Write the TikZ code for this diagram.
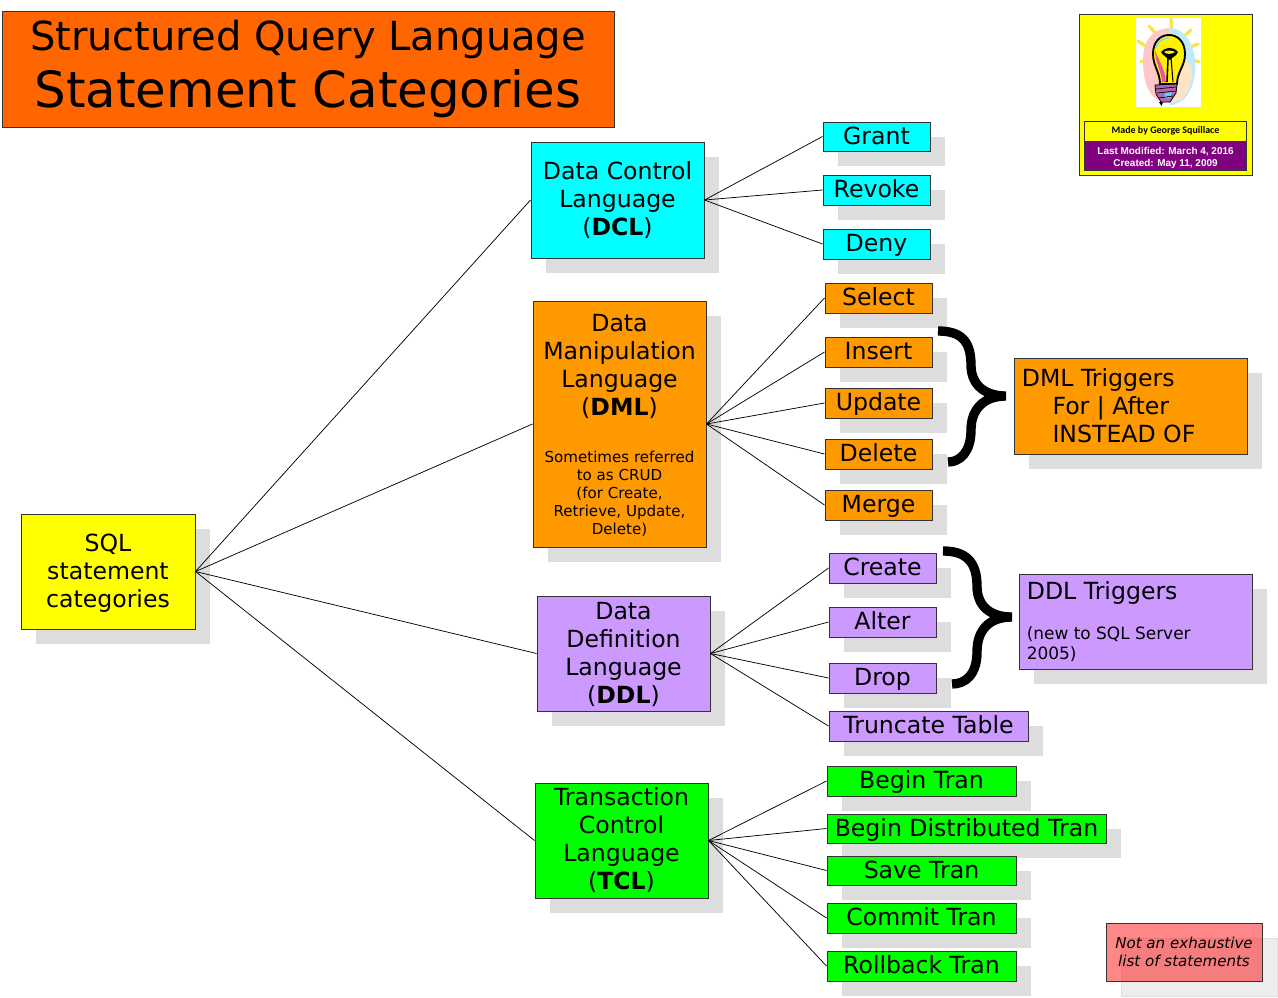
\documentclass[tikz,border=0pt]{standalone}
\usepackage{fontspec}
\setmainfont{DejaVu Sans}
\newfontfamily\carl{Carlito}
\newfontfamily\lib{Liberation Sans}
\definecolor{shad}{HTML}{DDDDDD}
\definecolor{orng}{HTML}{FF9900}
\definecolor{titleorange}{HTML}{FF6600}
\definecolor{purp}{HTML}{CC99FF}
\definecolor{grn}{HTML}{00FF00}
\definecolor{cyn}{HTML}{00FFFF}
\definecolor{yel}{HTML}{FFFF00}
\definecolor{dpurple}{HTML}{800080}
\definecolor{edge}{HTML}{333333}
\definecolor{raycol}{HTML}{F5E74A}
\tikzset{
  x=0.75pt,y=-0.75pt,
  boxnode/.style={draw=edge,line width=0.75pt,inner sep=0pt,align=center,text=black},
  shadowfill/.style={fill=shad,draw=none},
  link/.style={draw=black,line width=0.55pt},
  bracestroke/.style={draw=black,line width=7pt,line join=bevel,line cap=butt},
  big/.style={font=\fontsize{17.7}{21}\selectfont}
}
% name, x0,y0,x1,y1, colour, text
\newcommand{\bx}[7]{%
  \fill[shadowfill] (#2+15,#3+15) rectangle (#4+15,#5+15);
  \node[boxnode,big,fill=#6,minimum width={(#4-#2)*0.75pt},minimum height={(#5-#3)*0.75pt}] (#1) at ({(#2+#4)/2},{(#3+#5)/2}) {#7};
}
% single line without depth, so that all labels sit alike
\newcommand{\nd}[1]{\raisebox{0.8pt}[\height][0pt]{#1}}
\newcommand{\sm}[1]{{\fontsize{11.3}{13.5}\selectfont #1}}
\begin{document}
\begin{tikzpicture}
\useasboundingbox (0,0) rectangle (1278,997);
\node[boxnode,fill=titleorange,minimum width=459pt,minimum height=87pt,font=\fontsize{30}{42.5}\selectfont] (title) at (308,69) {Structured Query Language\\{\fontsize{37.4}{42.5}\selectfont Statement Categories}};
\bx{sql}{21}{514}{195}{629}{yel}{\rule{0pt}{16pt}SQL\\statement\\categories}
\bx{dcl}{531}{142}{704}{258}{cyn}{Data Control\\Language\\(\textbf{DCL})}
\bx{grant}{823}{122}{930}{151}{cyn}{\nd{Grant}}
\bx{revoke}{823}{175}{930}{205}{cyn}{\nd{Revoke}}
\bx{deny}{823}{229}{930}{259}{cyn}{\nd{Deny}}
\bx{dml}{533}{301}{706}{547}{orng}{\rule{0pt}{14.5pt}Data\\Manipulation\\Language\\(\textbf{DML})\\[14pt]\sm{Sometimes referred}\\[-7.5pt]\sm{to as CRUD}\\[-7.5pt]\sm{(for Create,}\\[-7.5pt]\sm{Retrieve, Update,}\\[-7.5pt]\sm{Delete)}}
\bx{select}{825}{283}{932}{313}{orng}{\nd{Select}}
\bx{insert}{825}{337}{932}{367}{orng}{\nd{Insert}}
\bx{update}{825}{388}{932}{418}{orng}{\nd{Update}}
\bx{delete}{825}{439}{932}{469}{orng}{\nd{Delete}}
\bx{merge}{825}{490}{932}{520}{orng}{\nd{Merge}}
\bx{dmltrig}{1014}{358}{1247}{454}{orng}{\raisebox{-0.8pt}{\parbox[c]{163pt}{\raggedright DML Triggers\\\hspace*{23pt}For | After\\\hspace*{23pt}INSTEAD OF}}}
\bx{ddl}{537}{596}{710}{711}{purp}{\rule{0pt}{14.5pt}Data\\Definition\\Language\\(\textbf{DDL})}
\bx{create}{829}{553}{936}{583}{purp}{\nd{Create}}
\bx{alter}{829}{607}{936}{637}{purp}{\nd{Alter}}
\bx{drop}{829}{663}{936}{693}{purp}{\nd{Drop}}
\bx{trunc}{829}{711}{1028}{741}{purp}{\nd{Truncate Table}}
\bx{ddltrig}{1019}{574}{1252}{669}{purp}{\raisebox{1pt}{\parbox[c]{163pt}{\raggedright DDL Triggers\\[15.5pt]{\fontsize{12.7}{15}\selectfont (new to SQL Server\\2005)\par}}}}
\bx{tcl}{535}{783}{708}{898}{grn}{Transaction\\Control\\Language\\(\textbf{TCL})}
\bx{begin}{827}{766}{1016}{796}{grn}{\nd{Begin Tran}}
\bx{dist}{827}{814}{1106}{843}{grn}{\nd{Begin Distributed Tran}}
\bx{save}{827}{856}{1016}{885}{grn}{\nd{Save Tran}}
\bx{commit}{827}{903}{1016}{933}{grn}{\nd{Commit Tran}}
\bx{rollback}{827}{951}{1016}{981}{grn}{\nd{Rollback Tran}}
% note
\fill[fill=black!7,draw=black!12,line width=0.5pt] (1121,938) rectangle (1277,996);
\node[draw=edge,line width=0.75pt,fill=red,fill opacity=0.47,text opacity=1,inner sep=0pt,align=center,minimum width=117pt,minimum height=43.5pt,font=\fontsize{11.3}{13.5}\selectfont\itshape] (note) at (1184,952) {Not an exhaustive\\list of statements};
% connectors
\foreach \a/\b in {sql/dcl,sql/dml,sql/ddl,sql/tcl}{\draw[link] (\a.east) -- (\b.west);}
\foreach \b in {grant,revoke,deny}{\draw[link] (dcl.east) -- (\b.west);}
\foreach \b in {select,insert,update,delete,merge}{\draw[link] (dml.east) -- (\b.west);}
\foreach \b in {create,alter,drop,trunc}{\draw[link] (ddl.east) -- (\b.west);}
\foreach \b in {begin,dist,save,commit,rollback}{\draw[link] (tcl.east) -- (\b.west);}
% braces
\draw[bracestroke] (938,331) .. controls (960,331) and (971,340) .. (971,365) .. controls (971,385) and (985,396) .. (1006,396) .. controls (985,396) and (971,408) .. (971,430) .. controls (971,452) and (960,462) .. (948,462);
\draw[bracestroke] (943,551) .. controls (965,551) and (977,561) .. (977,586) .. controls (977,606) and (990,617) .. (1012,617) .. controls (990,617) and (977,629) .. (977,652) .. controls (977,675) and (965,684) .. (952,684);
% logo
\node[boxnode,fill=yel,minimum width=129.75pt,minimum height=120.75pt] (logo) at (1165.5,94.5) {};
\fill[white] (1136,18) rectangle (1201,107);
% rays
\foreach \xa/\ya/\xb/\yb in {1149/26/1157/35, 1171/19/1172/31, 1191/30/1183/37, 1198/44/1190/47, 1199/62/1190/59, 1138/41/1147/47, 1141/62/1149/57}{\draw[raycol,line width=2.4pt,line cap=round] (\xa,\ya) -- (\xb,\yb);}
% halo
\fill[red!22] (1169,102) .. controls (1150,104) and (1143,82) .. (1143,62) .. controls (1143,42) and (1150,29) .. (1170,28) -- cycle;
\fill[cyan!25] (1169,28) .. controls (1190,28) and (1197,55) .. (1195,72) .. controls (1193,90) and (1185,105) .. (1169,105) -- cycle;
\fill[orange!22] (1174,62) .. controls (1190,57) and (1192,65) .. (1192,75) .. controls (1190,90) and (1184,102) .. (1172,102) -- cycle;
% bulb
\filldraw[fill=yellow,draw=black,line width=1.4pt] (1160,84) .. controls (1160,72) and (1153,66) .. (1153,54) .. controls (1153,42) and (1160,35) .. (1169,35) .. controls (1178,35) and (1185,42) .. (1185,54) .. controls (1185,66) and (1177,72) .. (1177,84) -- cycle;
\fill[magenta!70] (1155,50) .. controls (1155,62) and (1161,70) .. (1162,82) -- (1166,82) .. controls (1165,68) and (1158,60) .. (1155,50) -- cycle;
\draw[cyan!50,line width=1pt] (1156,48) .. controls (1158,41) and (1163,38) .. (1169,38);
\draw[black,line width=1.2pt] (1167,82) -- (1168,58);
\draw[black,line width=0.8pt] (1173,82) -- (1171,58);
\fill[black] (1161,52) .. controls (1165,47) and (1173,46) .. (1178,52) .. controls (1176,57) and (1173,56) .. (1170,60) .. controls (1167,57) and (1164,57) .. (1161,52) -- cycle;
\fill[yellow] (1164,52) .. controls (1167,50) and (1171,50) .. (1175,52) .. controls (1172,54) and (1167,55) .. (1164,52) -- cycle;
\filldraw[fill=violet!60,draw=black,line width=0.6pt] (1155,85) -- (1177,84) -- (1176,93) -- (1170,102) -- (1161,102) -- (1156,94) -- cycle;
\fill[cyan!60] (1165,93) -- (1172,92) -- (1170,98) -- (1164,98) -- cycle;
\draw[black,line width=0.5pt] (1156,89) -- (1176,87) (1157,93) -- (1176,91) (1159,98) -- (1173,96);
\fill[black] (1159,102) -- (1163,102) -- (1161.5,106) -- cycle;
% logo labels
\node[boxnode,fill=yel,minimum width=122pt,minimum height=15pt,font=\carl\bfseries\fontsize{7.5}{8}\selectfont] (madeby) at (1165.5,131) {\raisebox{-0.7pt}{Made by George Squillace}};
\node[boxnode,fill=dpurple,text=white,minimum width=122pt,minimum height=22pt,font=\lib\bfseries\fontsize{7.45}{9}\selectfont] (dates) at (1165.5,156) {\rule{0pt}{8.5pt}Last Modified: March 4, 2016\\Created: May 11, 2009};
\end{tikzpicture}
\end{document}
